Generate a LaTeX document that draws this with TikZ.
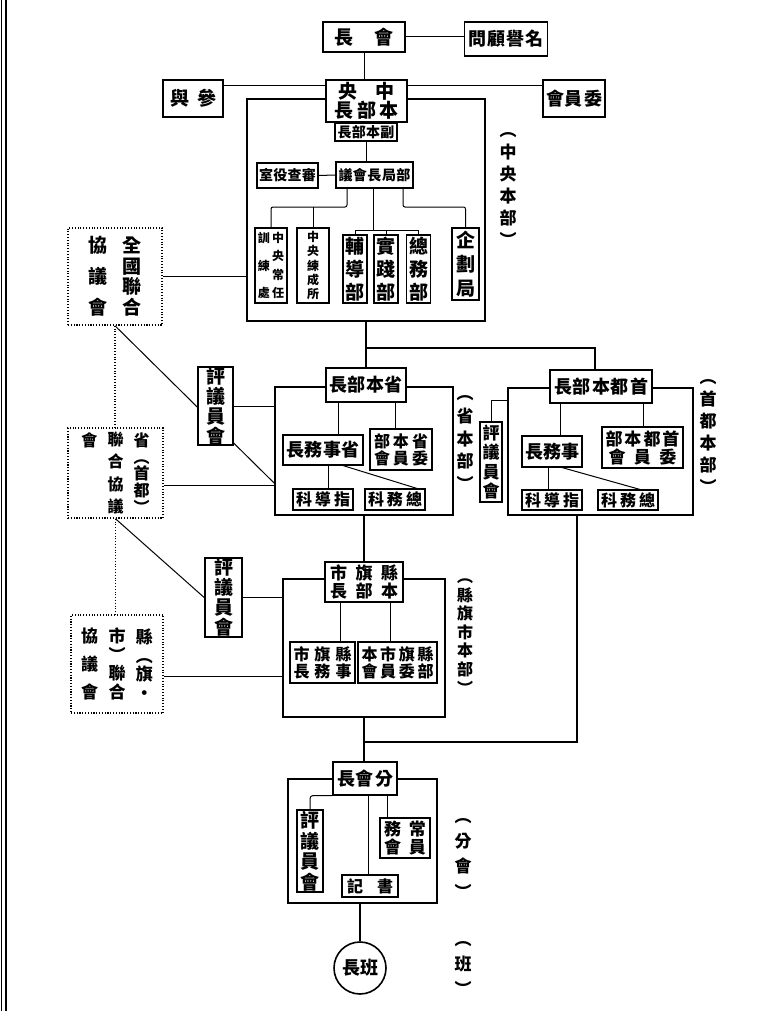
\documentclass[tikz,border=0pt]{standalone}
\usepackage{fontspec}
\setmainfont{Noto Sans CJK TC}
\usetikzlibrary{backgrounds}
\makeatletter
\newcommand\hs[2]{\makebox[#1][s]{\@tempswafalse\@tfor\hs@c:=#2\do{\if@tempswa\hfill\fi\@tempswatrue\hs@c}}}
\newcommand\vs[2]{\parbox[c][#1][s]{1.2em}{\centering\@tempswafalse\@tfor\vs@c:=#2\do{\if@tempswa\par\vfill\fi\@tempswatrue\vs@c}\par}}
\makeatother
\newcommand\vdrop[3]{\coordinate (tmpx) at (#2,0); \draw[conn] (#1.south -| tmpx) -- (#3.north -| tmpx);}
\newcommand\hlink[3]{\coordinate (tmpy) at (0,#2); \draw[conn] (#1.east |- tmpy) -- (#3.west |- tmpy);}
\tikzset{
 f/.style={font=\fontsize{#1}{#1}\selectfont\bfseries},
 bx/.style={draw, line width=1.1pt, fill=white, inner sep=0pt, align=center},
 thk/.style={bx, line width=1.7pt},
 frame/.style={draw, line width=1.8pt, inner sep=0pt},
 dotbox/.style={draw, line width=1.5pt, dash pattern=on 1.1pt off 1.7pt, inner sep=0pt, fill=white},
 conn/.style={line width=1pt},
 trunk/.style={line width=1.7pt},
 dotline/.style={line width=1.5pt, dash pattern=on 1.1pt off 1.7pt},
 lbl/.style={inner sep=0pt},
}
\begin{document}
\begin{tikzpicture}[x=1pt,y=-1pt]
\useasboundingbox (0,0) rectangle (761,1011);
\draw[line width=1pt] (1,0) -- (1,1011);
\draw[line width=2pt] (5.5,0) -- (5.5,1011);
% frames
\node[frame, minimum width=238pt, minimum height=222pt] (chuoF) at (366,210) {};
\node[frame, minimum width=178pt, minimum height=128pt] (shoF) at (364,451) {};
\node[frame, minimum width=185pt, minimum height=127pt] (shutoF) at (600.5,451.5) {};
\node[frame, minimum width=162pt, minimum height=138pt] (kenF) at (364,648) {};
\node[frame, minimum width=149pt, minimum height=124pt] (bunF) at (362.5,841) {};
% top
\node[bx, f=19, minimum width=82pt, minimum height=30pt] (kaicho) at (364,37) {\hs{60pt}{長會}};
\node[bx, f=18, minimum width=83pt, minimum height=34pt] (meiyo) at (506,39) {\hs{75pt}{問顧譽名}};
\node[thk, f=19, minimum width=60pt, minimum height=37pt] (sanyo) at (193,98.5) {\hs{46pt}{與參}};
\node[thk, f=18, minimum width=62pt, minimum height=37pt] (iinkai) at (574,98.5) {\hs{56pt}{會員委}};
\node[bx, f=19, minimum width=81pt, minimum height=42pt] (chuo) at (366.5,101) {\hs{56pt}{央中}\\[0pt]\hs{64pt}{長部本}};
\node[bx, f=14, minimum width=62pt, minimum height=18pt] (fuku) at (366,132) {\hs{57pt}{長部本副}};
\node[bx, f=14, minimum width=77pt, minimum height=26pt] (bukyoku) at (374.5,175) {\hs{72pt}{議會長局部}};
\node[bx, f=14, minimum width=61pt, minimum height=25pt] (shinsa) at (287.5,175.5) {\hs{57pt}{室役查審}};
\node[bx, f=12, minimum width=32pt, minimum height=75pt] (kunren) at (271,265.5) {\vs{66pt}{訓練處}\vs{66pt}{中央常任}};
\node[bx, f=12, minimum width=32pt, minimum height=75pt] (rensei) at (313,265.5) {\vs{67pt}{中央練成所}};
\node[bx, f=19, minimum width=24pt, minimum height=68pt] (hodo) at (355,269) {\vs{62pt}{輔導部}};
\node[bx, f=19, minimum width=24pt, minimum height=68pt] (jissen) at (386,269) {\vs{62pt}{實踐部}};
\node[bx, f=19, minimum width=24pt, minimum height=68pt] (somu) at (418.5,269) {\vs{62pt}{總務部}};
\node[bx, f=19, minimum width=27pt, minimum height=72pt] (kikaku) at (465.5,264) {\vs{64pt}{企劃局}};
\node[lbl, f=17] (lblChuo) at (508,190) {\vs{114pt}{︵中央本部︶}};
% left side
\node[dotbox, f=19, minimum width=94pt, minimum height=97pt] (zenkoku) at (115,276.5) {\vs{78pt}{協議會}\hspace{11pt}\vs{78pt}{全國聯合}};
\node[thk, f=19, minimum width=35pt, minimum height=78pt] (hyoA) at (215.5,406) {\vs{76pt}{評議員會}};
\node[thk, f=19, minimum width=37pt, minimum height=79pt] (hyoB) at (223.5,597.5) {\vs{76pt}{評議員會}};
\node[thk, f=17, minimum width=22pt, minimum height=80pt] (hyoC) at (491,462) {\vs{72pt}{評議員會}};
\node[dotbox, f=16, minimum width=95pt, minimum height=90pt] (shoRengo) at (115.5,473) {\parbox[c][80pt][t]{1.2em}{\centering 會}\hspace{7pt}\vs{80pt}{聯合協議}\hspace{7pt}\vs{80pt}{省︵首都︶}};
\node[dotbox, f=17, minimum width=92pt, minimum height=98pt] (kenRengo) at (117,664) {\vs{70pt}{協議會}\hspace{7pt}\vs{70pt}{市︶聯合}\hspace{7pt}\vs{70pt}{縣︵旗・}};
% sho
\node[bx, f=18, minimum width=80pt, minimum height=34pt] (shoHead) at (366,385) {\hs{73pt}{長部本省}};
\node[bx, f=18, minimum width=80pt, minimum height=30pt] (shoJimu) at (323,450) {\hs{73pt}{長務事省}};
\node[bx, f=16, minimum width=62pt, minimum height=41pt] (shoIin) at (401,449.5) {\hs{54pt}{部本省}\\[1pt]\hs{54pt}{會員委}};
\node[bx, f=16, minimum width=60pt, minimum height=21pt] (shoShido) at (323,499.5) {\hs{54pt}{科導指}};
\node[bx, f=16, minimum width=60pt, minimum height=21pt] (shoSomu) at (395,499.5) {\hs{54pt}{科務總}};
\node[lbl, f=17] (lblSho) at (465,443) {\vs{95pt}{︵省本部︶}};
% shuto
\node[bx, f=18, minimum width=102pt, minimum height=33pt] (shutoHead) at (601,386.5) {\hs{94pt}{長部本都首}};
\node[bx, f=18, minimum width=60pt, minimum height=31pt] (shutoJimu) at (552,451.5) {\hs{54pt}{長務事}};
\node[bx, f=17, minimum width=81pt, minimum height=41pt] (shutoIin) at (642.5,447.5) {\hs{74pt}{部本都首}\\[1pt]\hs{68pt}{會員委}};
\node[bx, f=16, minimum width=60pt, minimum height=20pt] (shutoShido) at (552,500) {\hs{54pt}{科導指}};
\node[bx, f=16, minimum width=60pt, minimum height=20pt] (shutoSomu) at (628,500) {\hs{54pt}{科務總}};
\node[lbl, f=17] (lblShuto) at (708,436.5) {\vs{113pt}{︵首都本部︶}};
% ken
\node[bx, f=17, minimum width=78pt, minimum height=40pt] (kenHead) at (364,582) {\hs{68pt}{市旗縣}\\[1pt]\hs{68pt}{長部本}};
\node[bx, f=16, minimum width=65pt, minimum height=41pt] (kenJimu) at (322.5,662.5) {\hs{58pt}{市旗縣}\\[1pt]\hs{58pt}{長務事}};
\node[bx, f=16, minimum width=79pt, minimum height=41pt] (kenIin) at (397.5,662.5) {\hs{72pt}{本市旗縣}\\[1pt]\hs{72pt}{會員委部}};
\node[lbl, f=16] (lblKen) at (465,636.5) {\vs{115pt}{︵縣旗市本部︶}};
% bunkai
\node[bx, f=18, minimum width=64pt, minimum height=33pt] (bunHead) at (365,778.5) {\hs{56pt}{長會分}};
\node[bx, f=19, minimum width=26pt, minimum height=82pt] (bunHyo) at (310,851) {\vs{78pt}{評議員會}};
\node[bx, f=17, minimum width=50pt, minimum height=40pt] (bunJomu) at (405,838) {\hs{42pt}{務常}\\[1pt]\hs{42pt}{會員}};
\node[bx, f=16, minimum width=56pt, minimum height=22pt] (bunShoki) at (370,886) {\hs{46pt}{記書}};
\node[lbl, f=17] (lblBun) at (463,858) {\vs{80pt}{︵分會︶}};
\node[draw, line width=1.6pt, circle, minimum size=52pt, inner sep=0pt, fill=white, f=18] (hancho) at (360,968) {長班};
\node[lbl, f=17] (lblHan) at (463,968) {\vs{54pt}{︵班︶}};
% connectors
\begin{pgfonlayer}{background}
\draw[conn] (kaicho.east) -- (meiyo.west |- kaicho.east);
\draw[conn] (kaicho.south) -- (kaicho.south |- chuo.north);
\hlink{sanyo}{86}{chuo}
\hlink{chuo}{86}{iinkai}
\draw[conn] (fuku.south) -- (fuku.south |- bukyoku.north);
\draw[conn] (shinsa.east) -- (bukyoku.west);
\coordinate (t1) at (347,207);
\draw[conn, rounded corners=2pt] (t1 |- bukyoku.south) -- (t1) -| (kunren.north);
\draw[conn] (rensei.north |- t1) -- (rensei.north);
\coordinate (t2) at (373,230);
\draw[conn] (t2 |- bukyoku.south) -- (t2);
\draw[conn] (hodo.north) -- (hodo.north |- t2) -- (somu.north |- t2) -- (somu.north);
\draw[conn] (jissen.north |- t2) -- (jissen.north);
\coordinate (t3) at (403,207);
\draw[conn, rounded corners=2pt] (t3 |- bukyoku.south) -- (t3) -| (kikaku.north);
% trunk
\coordinate (j1) at (366,348);
\coordinate (j1r) at (595,348);
\draw[trunk] (chuoF.south) -- (shoHead.north);
\draw[trunk] (j1) -- (j1r) -- (j1r |- shutoHead.north);
\draw[trunk] (shoF.south) -- (kenHead.north);
\coordinate (x577) at (577,0);
\coordinate (j2) at (364,742);
\draw[trunk] (shutoF.south -| x577) |- (j2);
\draw[trunk] (kenF.south) -- (kenF.south |- bunHead.north);
\draw[trunk] (hancho.north |- bunF.south) -- (hancho.north);
% left
\draw[conn] (zenkoku.east) -- (zenkoku.east -| chuoF.west);
\draw[conn] (hyoA.east) -- (hyoA.east -| shoF.west);
\coordinate (y483) at (0,483);
\draw[conn] (zenkoku.south) -- (shoF.west |- y483);
\hlink{shoRengo}{485}{shoF}
\draw[dotline] (zenkoku.south) -- (zenkoku.south |- shoRengo.north);
\draw[dotline] (shoRengo.south) -- (shoRengo.south |- kenRengo.north);
\draw[conn] (shoRengo.south) -- (hyoB.west);
\draw[conn] (hyoB.east) -- (hyoB.east -| kenF.west);
\hlink{kenRengo}{676}{kenF}
% sho inner
\vdrop{shoHead}{338}{shoJimu}
\vdrop{shoHead}{395}{shoIin}
\vdrop{shoJimu}{328}{shoShido}
\coordinate (da) at (343,0); \coordinate (db) at (417,0);
\draw[conn] (shoJimu.south -| da) -- (shoSomu.north -| db);
\coordinate (c3) at (0,400);
\draw[conn] (hyoC.north) |- (shutoF.west |- c3);
% shuto inner
\vdrop{shutoHead}{560}{shutoJimu}
\vdrop{shutoHead}{643}{shutoIin}
\vdrop{shutoJimu}{548}{shutoShido}
\coordinate (dc) at (562,0); \coordinate (dd) at (640,0);
\draw[conn] (shutoJimu.south -| dc) -- (shutoSomu.north -| dd);
% ken inner
\vdrop{kenHead}{340}{kenJimu}
\vdrop{kenHead}{390}{kenIin}
% bunkai inner
\draw[conn, rounded corners=3pt] (bunHyo.north) |- (bunHead.south west);
\vdrop{bunHead}{387}{bunJomu}
\vdrop{bunHead}{368}{bunShoki}
\end{pgfonlayer}
\end{tikzpicture}
\end{document}
